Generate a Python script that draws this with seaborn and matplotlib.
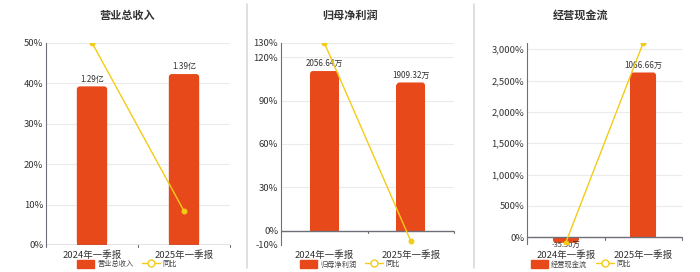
import numpy as np
import pandas as pd
import matplotlib
matplotlib.use("Agg")
import matplotlib.pyplot as plt
import seaborn as sns
from matplotlib.patches import Patch, FancyBboxPatch, Rectangle
from matplotlib.lines import Line2D
from matplotlib.ticker import FuncFormatter

sns.set_theme(style="white")
plt.rcParams['font.family'] = ['Noto Sans CJK SC', 'DejaVu Sans']

# ---- data ----
categories = ['2024年一季报', '2025年一季报']

titles = ['营业总收入', '归母净利润', '经营现金流']
rev_values = [1.29, 1.39]          # 亿
rev_labels = ['1.29亿', '1.39亿']
rev_yoy = [50.0, 8.4]

np_values = [2056.64, 1909.32]     # 万
np_labels = ['2056.64万', '1909.32万']
np_yoy = [130.0, -7.2]

cf_values = [-35.50, 1066.66]      # 万
cf_labels = ['-35.50万', '1066.66万']
cf_yoy = [-85.0, 3104.0]

yoy_name = '同比'

BAR = '#E8491B'
LINE = '#F2CC17'
TXT = '#333333'
GRID = '#EBEBEB'
AX = '#6E7079'

W, H = 700, 272
fig = plt.figure(figsize=(W / 100, H / 100), dpi=100)
fig.patch.set_facecolor('white')

panels = [
    dict(rect=(46, 42.7, 230, 245), cx=127, title=titles[0], vals=rev_values, labs=rev_labels, yoy=rev_yoy,
         plim=(0, 50), pticks=[0, 10, 20, 30, 40, 50], blim_top=1.645, fmt=lambda v, p: f'{v:.0f}%', xpad=3.5),
    dict(rect=(281, 42.7, 454, 245), cx=350, title=titles[1], vals=np_values, labs=np_labels, yoy=np_yoy,
         plim=(-10, 130), pticks=[-10, 0, 30, 60, 90, 120, 130], blim_top=2422.0, fmt=lambda v, p: f'{v:.0f}%',
         xpad=3.5),
    dict(rect=(527, 42.7, 682, 243.6), cx=581, title=titles[2], vals=cf_values, labs=cf_labels, yoy=cf_yoy,
         plim=(-100, 3104), pticks=[0, 500, 1000, 1500, 2000, 2500, 3000], blim_top=1259.4,
         fmt=lambda v, p: f'{v:,.0f}%', xpad=5.0),
]

RADIUS_PX = 3.0

for pn in panels:
    x0, y0, x1, y1 = pn['rect']
    axb = fig.add_axes([x0 / W, 1 - y1 / H, (x1 - x0) / W, (y1 - y0) / H])
    plo, phi = pn['plim']
    factor = pn['blim_top'] / phi
    blo = plo * factor
    df = pd.DataFrame({'cat': categories, 'val': pn['vals'], 'yoy': pn['yoy']})

    # gridlines below bars
    for t in pn['pticks']:
        if t != 0:
            axb.axhline(t * factor, color=GRID, lw=0.8, zorder=0)

    sns.barplot(data=df, x='cat', y='val', ax=axb, color=BAR, width=0.33,
                saturation=1, zorder=2)
    axb.set_ylim(blo, pn['blim_top'])
    axb.set_xlim(-0.5, 1.5)

    # rounded bar ends
    xpp = 2.0 / (x1 - x0)
    ypp = (pn['blim_top'] - blo) / (y1 - y0)
    rx = RADIUS_PX * xpp
    ry = RADIUS_PX * ypp
    for p in list(axb.patches):
        bx, by, bw, bh = p.get_x(), p.get_y(), p.get_width(), p.get_height()
        top = by + bh
        lo, hi = min(by, top), max(by, top)
        p.set_visible(False)
        fb = FancyBboxPatch((bx, lo), bw, hi - lo,
                            boxstyle=f"round,pad=0,rounding_size={rx}",
                            mutation_aspect=ypp / xpp, facecolor=BAR, edgecolor='none', zorder=2)
        axb.add_patch(fb)
        if hi - lo > ry:
            if top >= 0:
                axb.add_patch(Rectangle((bx, 0), bw, (hi - lo) - ry, facecolor=BAR,
                                        edgecolor='none', zorder=2))
            else:
                axb.add_patch(Rectangle((bx, lo + ry), bw, (hi - lo) - ry, facecolor=BAR,
                                        edgecolor='none', zorder=2))

    axb.set_yticks([])
    axb.set_xlabel('')
    axb.set_ylabel('')
    for s in ['top', 'right', 'bottom']:
        axb.spines[s].set_visible(False)
    axb.spines['left'].set_color(AX)
    axb.spines['left'].set_linewidth(0.8)
    axb.axhline(0, color=AX, lw=1.0, zorder=3)
    axb.tick_params(axis='x', length=0, labelsize=6.8, labelcolor=TXT, pad=pn['xpad'])
    for i, (v, lab) in enumerate(zip(pn['vals'], pn['labs'])):
        if v >= 0:
            axb.annotate(lab, (i, v), xytext=(0, 2), textcoords='offset points',
                         ha='center', va='bottom', fontsize=5.8, color=TXT, zorder=5)
        else:
            axb.annotate(lab, (i, v), xytext=(0, 1.2), textcoords='offset points',
                         ha='center', va='top', fontsize=5.4, color=TXT, zorder=5)
    for xb in [-0.5, 0.5, 1.5]:
        axb.plot([xb, xb], [0, -(pn['blim_top'] - blo) * 0.012], color=AX, lw=0.8,
                 clip_on=False, zorder=3)

    axl = axb.twinx()
    sns.lineplot(data=df, x='cat', y='yoy', ax=axl, color=LINE, lw=1.0, marker='o',
                 markersize=3.5, markeredgecolor=LINE, markerfacecolor=LINE, sort=False)
    axl.set_ylim(plo, phi)
    axl.set_xlim(-0.5, 1.5)
    axl.yaxis.tick_left()
    axl.yaxis.set_label_position('left')
    axl.set_yticks(pn['pticks'])
    axl.yaxis.set_major_formatter(FuncFormatter(pn['fmt']))
    axl.tick_params(axis='y', length=0, labelsize=6.8, labelcolor=TXT, pad=2)
    axl.set_ylabel('')
    axl.set_xlabel('')
    for s in axl.spines.values():
        s.set_visible(False)

    cx = pn['cx']
    fig.text(cx / W, 1 - 15 / H, pn['title'], ha='center', va='center',
             fontsize=8, fontweight='bold', color=TXT)

    handles = [Patch(facecolor=BAR, edgecolor=BAR, label=pn['title']),
               Line2D([0], [0], color=LINE, lw=1.0, marker='o', markersize=5,
                      markerfacecolor='white', markeredgecolor=LINE, label=yoy_name)]
    fig.legend(handles=handles, loc='center', bbox_to_anchor=(cx / W, 1 - 264 / H),
               ncol=2, frameon=False, fontsize=5.2, handlelength=2.4, handleheight=1.5,
               columnspacing=1.2, handletextpad=0.4, labelcolor='#444444')

for xs in [247, 474]:
    fig.add_artist(Line2D([xs / W, xs / W], [1 - 268 / H, 1 - 4 / H], color='#D9D9D9', lw=1.2))

fig.savefig('out.png', dpi=100, facecolor='white')
